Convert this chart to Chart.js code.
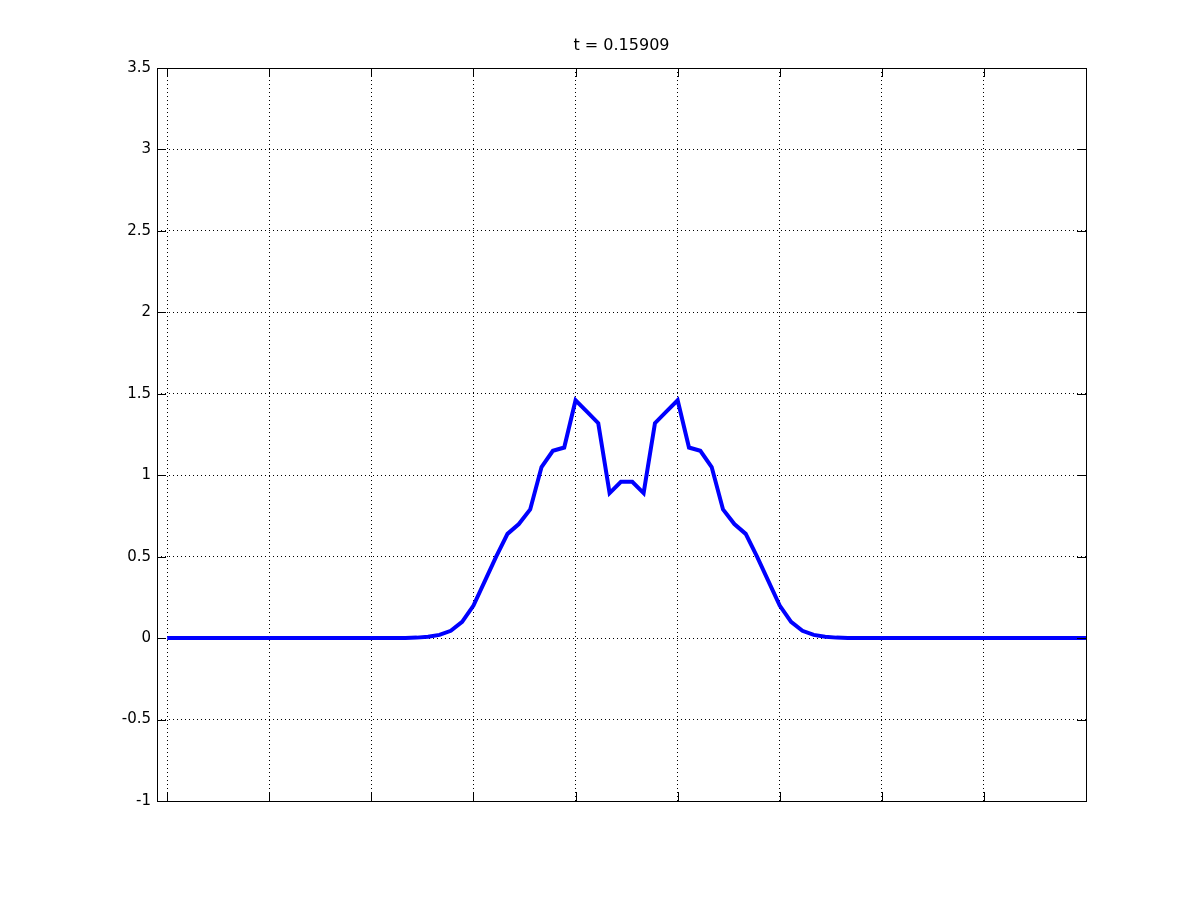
<!DOCTYPE html>
<html>
<head>
    <meta charset="UTF-8">
    <title>t = 0.15909</title>
    <script src="https://cdn.jsdelivr.net/npm/chart.js"></script>
    <style>
        body { margin: 0; background: #fff; }
        #wrap { width: 1200px; height: 900px; }
    </style>
</head>
<body>
    <div id="wrap"><canvas id="wykres"></canvas></div>

    <script>
        const titleText = 't = 0.15909';
        // sample grid: x = 0 .. 9, step 1/9
        const xStart = 0;
        const xStep = 1 / 9;
        const uValues = [
            0, 0, 0, 0, 0, 0, 0, 0, 0, 0,
            0, 0, 0, 0, 0, 0, 0, 0, 0, 0,
            0, 0.001, 0.003, 0.008, 0.02, 0.045, 0.10, 0.20, 0.35, 0.50,
            0.64, 0.70, 0.79, 1.05, 1.15, 1.17, 1.46, 1.39, 1.32, 0.89,
            0.96, 0.96, 0.89, 1.32, 1.39, 1.46, 1.17, 1.15, 1.05, 0.79,
            0.70, 0.64, 0.50, 0.35, 0.20, 0.10, 0.045, 0.02, 0.008, 0.003,
            0.001, 0, 0, 0, 0, 0, 0, 0, 0, 0,
            0, 0, 0, 0, 0, 0, 0, 0, 0, 0,
            0, 0
        ];
        const xTicks = [0, 1, 2, 3, 4, 5, 6, 7, 8, 9];
        const yTicks = [-1, -0.5, 0, 0.5, 1, 1.5, 2, 2.5, 3, 3.5];

        const punkty = uValues.map((v, i) => ({ x: xStart + i * xStep, y: v }));

        // box + inward ticks like octave
        const ramka = {
            id: 'ramka',
            afterDraw(chart) {
                const c = chart.ctx;
                const a = chart.chartArea;
                const sx = chart.scales.x;
                const sy = chart.scales.y;
                const len = 9;
                c.save();
                c.strokeStyle = '#000';
                c.lineWidth = 1;
                c.beginPath();
                xTicks.forEach(v => {
                    const px = Math.round(sx.getPixelForValue(v)) + 0.5;
                    c.moveTo(px, a.bottom); c.lineTo(px, a.bottom - len);
                    c.moveTo(px, a.top); c.lineTo(px, a.top + len);
                });
                yTicks.forEach(v => {
                    const py = Math.round(sy.getPixelForValue(v)) + 0.5;
                    c.moveTo(a.left, py); c.lineTo(a.left + len, py);
                    c.moveTo(a.right, py); c.lineTo(a.right - len, py);
                });
                c.stroke();
                c.strokeRect(Math.round(a.left) + 0.5, Math.round(a.top) + 0.5,
                    Math.round(a.right - a.left), Math.round(a.bottom - a.top));
                c.restore();
            }
        };

        var wykres = new Chart(document.getElementById('wykres').getContext('2d'), {
            type: 'line',
            data: {
                datasets: [{
                    label: 'u',
                    data: punkty,
                    borderColor: '#0000ff',
                    backgroundColor: '#0000ff',
                    borderWidth: 4,
                    pointRadius: 0,
                    fill: false,
                    tension: 0
                }]
            },
            options: {
                responsive: true,
                maintainAspectRatio: false,
                animation: false,
                layout: { padding: { left: 0, right: 114, top: 0, bottom: 0 } },
                plugins: {
                    legend: { display: false },
                    tooltip: { enabled: false },
                    title: {
                        display: true,
                        text: titleText,
                        fullSize: false,
                        color: '#000',
                        font: { family: 'DejaVu Sans', size: 16, weight: 'normal' },
                        padding: { top: 36, bottom: 12.8 }
                    }
                },
                scales: {
                    x: {
                        type: 'linear',
                        min: -0.1,
                        max: 9,
                        afterBuildTicks: s => { s.ticks = xTicks.map(v => ({ value: v })); },
                        afterFit: s => { s.height = 99; },
                        ticks: { display: false },
                        grid: {
                            color: ctx => (ctx.tick && ctx.tick.value === 9) ? 'rgba(0,0,0,0)' : '#000',
                            lineWidth: 1,
                            drawTicks: false
                        },
                        border: { display: false, dash: [1, 3] }
                    },
                    y: {
                        min: -1,
                        max: 3.5,
                        afterBuildTicks: s => { s.ticks = yTicks.map(v => ({ value: v })); },
                        afterFit: s => { s.width = 157; },
                        ticks: {
                            color: '#000',
                            padding: 6,
                            font: { family: 'DejaVu Sans', size: 15 },
                            callback: v => String(v)
                        },
                        grid: {
                            color: ctx => (ctx.tick && (ctx.tick.value === -1 || ctx.tick.value === 3.5)) ? 'rgba(0,0,0,0)' : '#000',
                            lineWidth: 1,
                            drawTicks: false
                        },
                        border: { display: false, dash: [1, 3] }
                    }
                }
            },
            plugins: [ramka]
        });
    </script>
</body>
</html>
